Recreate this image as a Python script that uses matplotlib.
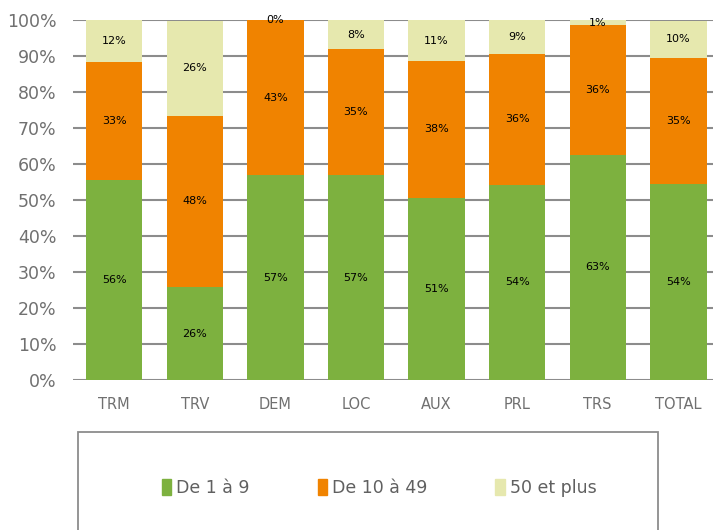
import numpy as np
from matplotlib import pyplot as plt
from matplotlib.patches import Rectangle, Patch

# catégories et parts (en %)
cats = ["TRM", "TRV", "DEM", "LOC", "AUX", "PRL", "TRS", "TOTAL"]
de1a9 = [55.5, 25.8, 56.9, 56.9, 50.6, 54.2, 62.6, 54.4]
de10a49 = [32.7, 47.6, 43.1, 35.0, 38.0, 36.4, 36.0, 35.0]
plus50 = [11.8, 26.4, 0.0, 8.1, 11.4, 9.4, 1.4, 10.4]
series = ["De 1 à 9", "De 10 à 49", "50 et plus"]
colors = ["#7db13f", "#f08300", "#e6e8ae"]

fig = plt.figure(figsize=(7.13, 5.30), dpi=100)
ax = fig.add_axes([73 / 713, 1 - 380 / 530, 1 - 73 / 713, 360 / 530])

x = np.arange(len(cats))
bottom = np.zeros(len(cats))
for vals, col in zip([de1a9, de10a49, plus50], colors):
    vals = np.array(vals)
    ax.bar(x, vals, 0.7, bottom=bottom, color=col, zorder=2)
    for xi, b, v in zip(x, bottom, vals):
        ax.text(xi, b + v / 2, f"{v:.0f}%", ha="center", va="center",
                fontsize=8, color="black", zorder=3)
    bottom += vals

ax.set_xlim(-0.51, 7.43)
ax.set_ylim(0, 100)
ax.set_yticks(range(0, 101, 10))
ax.set_yticklabels([f"{t}%" for t in range(0, 101, 10)])
ax.set_xticks(x)
ax.set_xticklabels(cats)
ax.tick_params(length=0, colors="#707070", labelsize=12.5)
ax.tick_params(axis="x", pad=12, labelsize=10.5)
ax.tick_params(axis="y", pad=12)
ax.grid(axis="y", color="#8c8c8c", linewidth=1.5, zorder=1)
ax.set_axisbelow(True)
for s in ax.spines.values():
    s.set_visible(False)

# cadre de la légende
fig.patches.append(Rectangle((78 / 713, -0.1), 580 / 713, 0.1 + 1 - 432 / 530,
                             transform=fig.transFigure, fill=False,
                             edgecolor="#8c8c8c", linewidth=1.3))
handles = [Patch(color=c) for c in colors]
fig.legend(handles, series, loc="center", bbox_to_anchor=(0.532, 1 - 488 / 530),
           ncol=3, frameon=False, fontsize=12.5, labelcolor="#606060",
           handlelength=0.55, handleheight=1.0, handletextpad=0.3,
           columnspacing=3.9)

plt.savefig("out.png")
